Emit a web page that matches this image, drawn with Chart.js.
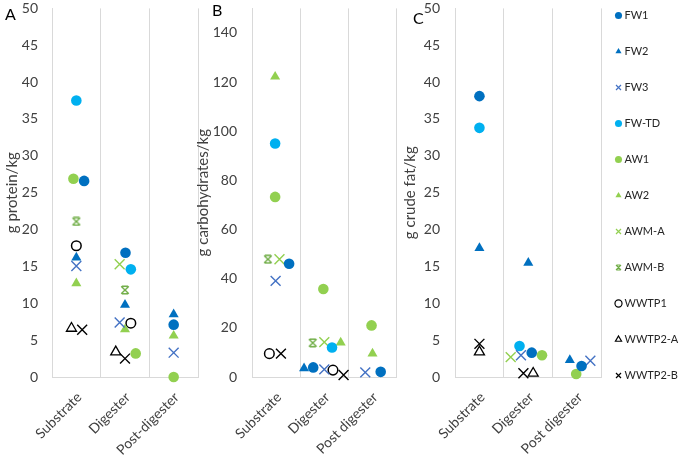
<!DOCTYPE html>
<html>
<head>
<meta charset="utf-8">
<script src="https://cdn.jsdelivr.net/npm/chart.js@4"></script>
<style>
  html, body { margin: 0; padding: 0; background: #fff; overflow: hidden; width: 685px; height: 456px; }
  canvas { position: absolute; }
  .letter { position: absolute; font-family: Lato, sans-serif; font-size: 16px; line-height: 16px; color: #000; }
</style>
</head>
<body>
<canvas id="chartA" width="215" height="456" style="left:0px;top:0px"></canvas>
<canvas id="chartB" width="215" height="456" style="left:190px;top:0px"></canvas>
<canvas id="chartC" width="215" height="456" style="left:395px;top:0px"></canvas>
<canvas id="legend" width="92" height="471" style="left:593px;top:-15px"></canvas>
<div class="letter" style="left:5px;top:6px">A</div>
<div class="letter" style="left:212px;top:2px">B</div>
<div class="letter" style="left:413px;top:10px">C</div>
<script>
// ---- data ----
const seriesNames = ['FW1','FW2','FW3','FW-TD','AW1','AW2','AWM-A','AWM-B','WWTP1','WWTP2-A','WWTP2-B'];
const categoriesA = ['Substrate','Digester','Post-digester'];
const categoriesBC = ['Substrate','Digester','Post digester'];
const proteinTicks = [0,5,10,15,20,25,30,35,40,45,50];
const carbTicks = [0,20,40,60,80,100,120,140];
const fatTicks = [0,5,10,15,20,25,30,35,40,45,50];

// g protein/kg : [Substrate, Digester, Post-digester] per series
const proteinValues = [
  [26.6, 16.85, 7.1],
  [16.2, 9.8, 8.5],
  [15.05, 7.4, 3.3],
  [37.5, 14.6, null],
  [26.9, 3.2, 0],
  [12.7, 6.45, 5.6],
  [null, 15.3, null],
  [21.1, 11.8, null],
  [17.8, 7.3, null],
  [6.6, 3.4, null],
  [6.4, 2.5, null]
];
// x values of the scatter (category index + spread)
const proteinX = [
  [1.16, 2.01, 3.0],
  [1.0, 2.0, 3.0],
  [1.0, 1.89, 3.0],
  [1.0, 2.12, 3.0],
  [0.94, 2.22, 3.0],
  [1.0, 2.0, 3.0],
  [1.0, 1.89, 3.0],
  [1.0, 2.0, 3.0],
  [1.0, 2.12, 3.0],
  [0.9, 1.81, 3.0],
  [1.12, 2.0, 3.0]
];

// g carbohydrates/kg
const carbValues = [
  [46.1, 3.9, 2.1],
  [null, 3.5, null],
  [39.1, 3.1, 1.9],
  [95.0, 12.0, null],
  [73.3, 35.8, 21.0],
  [122.2, 14.0, 9.5],
  [47.9, 14.2, null],
  [47.9, 13.9, null],
  [9.5, 2.8, null],
  [null, null, null],
  [9.5, 0.8, null]
];
const carbX = [
  [1.27, 1.77, 3.17],
  [1.0, 1.58, 3.0],
  [0.99, 2.0, 2.85],
  [0.98, 2.16, 3.0],
  [0.98, 1.98, 2.98],
  [0.98, 2.34, 3.0],
  [1.07, 2.0, 3.0],
  [0.83, 1.76, 3.0],
  [0.86, 2.18, 3.0],
  [1.0, 2.0, 3.0],
  [1.1, 2.4, 3.0]
];

// g crude fat/kg
const fatValues = [
  [38.1, 3.3, 1.5],
  [17.5, 15.5, 2.3],
  [null, 2.95, 2.2],
  [33.8, 4.2, null],
  [null, 2.95, 0.4],
  [null, null, null],
  [null, 2.7, null],
  [null, null, null],
  [null, null, null],
  [3.4, 0.5, null],
  [4.5, 0.5, null]
];
const fatX = [
  [1.0, 2.07, 3.09],
  [1.0, 2.0, 2.85],
  [1.0, 1.85, 3.27],
  [1.0, 1.82, 3.0],
  [1.0, 2.28, 2.98],
  [1.0, 2.0, 3.0],
  [1.0, 1.64, 3.0],
  [1.0, 2.0, 3.0],
  [1.0, 2.0, 3.0],
  [1.0, 2.1, 3.0],
  [1.0, 1.9, 3.0]
];

// ---- styles ----
function makeStar(color, size, lw) {
  const c = document.createElement('canvas');
  c.width = size; c.height = size;
  const g = c.getContext('2d');
  g.strokeStyle = color; g.lineWidth = lw;
  const m = lw * 0.85;
  g.beginPath();
  g.moveTo(m, m); g.lineTo(size - m, size - m);
  g.moveTo(size - m, m); g.lineTo(m, size - m);
  g.moveTo(size * 0.2, m); g.lineTo(size * 0.8, m);
  g.moveTo(size * 0.2, size - m); g.lineTo(size * 0.8, size - m);
  g.stroke();
  return c;
}
const BLUE = '#0070C0', CYAN = '#00B0F0', LBLUE = '#4472C4', LGREEN = '#92D050', DGREEN = '#70AD47', BLACK = '#000000';
const starPlot = makeStar(DGREEN, 10, 1.4);
const starLegend = makeStar(DGREEN, 7, 1.2);
const styles = [
  {pointStyle: 'circle', pointRadius: 5.3, backgroundColor: BLUE, borderColor: BLUE, borderWidth: 0},
  {pointStyle: 'triangle', pointRadius: 5.8, backgroundColor: BLUE, borderColor: BLUE, borderWidth: 0},
  {pointStyle: 'crossRot', pointRadius: 7, backgroundColor: LBLUE, borderColor: LBLUE, borderWidth: 1.4},
  {pointStyle: 'circle', pointRadius: 5.3, backgroundColor: CYAN, borderColor: CYAN, borderWidth: 0},
  {pointStyle: 'circle', pointRadius: 5.3, backgroundColor: LGREEN, borderColor: LGREEN, borderWidth: 0},
  {pointStyle: 'triangle', pointRadius: 5.8, backgroundColor: LGREEN, borderColor: LGREEN, borderWidth: 0},
  {pointStyle: 'crossRot', pointRadius: 7, backgroundColor: LGREEN, borderColor: LGREEN, borderWidth: 1.4},
  {pointStyle: starPlot, legendStyle: starLegend, pointRadius: 5, backgroundColor: DGREEN, borderColor: DGREEN, borderWidth: 1.4},
  {pointStyle: 'circle', pointRadius: 4.8, backgroundColor: '#ffffff', borderColor: BLACK, borderWidth: 1.5},
  {pointStyle: 'triangle', pointRadius: 5.8, backgroundColor: 'rgba(255,255,255,0)', borderColor: BLACK, borderWidth: 1.3},
  {pointStyle: 'crossRot', pointRadius: 7, backgroundColor: BLACK, borderColor: BLACK, borderWidth: 1.4}
];

const TXT = '#404040';
const FONT = 'Lato, "Open Sans", sans-serif';

function buildDatasets(values, xs) {
  return seriesNames.map((name, i) => ({
    label: name,
    data: values ? values[i].map((v, j) => v == null ? null : {x: xs[i][j], y: v}).filter(p => p) : [],
    pointStyle: (!values && styles[i].legendStyle) ? styles[i].legendStyle : styles[i].pointStyle,
    pointRadius: styles[i].pointRadius,
    pointHoverRadius: styles[i].pointRadius,
    pointBackgroundColor: styles[i].backgroundColor,
    pointBorderColor: styles[i].borderColor,
    pointBorderWidth: values ? styles[i].borderWidth : Math.min(styles[i].borderWidth, 1.2),
    backgroundColor: styles[i].backgroundColor,
    borderColor: styles[i].borderColor,
    borderWidth: styles[i].borderWidth,
    showLine: false,
    clip: false
  }));
}

function panel(id, values, xs, cats, yTicks, yMax, yTitle, yWidth, tickPad, titlePad, padRight) {
  return new Chart(document.getElementById(id), {
    type: 'scatter',
    data: { datasets: buildDatasets(values, xs) },
    options: {
      responsive: false,
      animation: false,
      events: [],
      layout: { padding: { left: 0, top: 5, right: padRight, bottom: 0 } },
      plugins: { legend: { display: false }, tooltip: { enabled: false } },
      scales: {
        x: {
          type: 'linear', min: 0.5, max: 3.5,
          afterBuildTicks: s => { s.ticks = [0.5, 1, 1.5, 2, 2.5, 3, 3.5].map(v => ({value: v})); },
          afterFit: s => { s.height = 79; s.paddingLeft = 0; s.paddingRight = 0; },
          ticks: {
            autoSkip: false, minRotation: 45, maxRotation: 45, padding: 12, labelOffset: 3,
            color: TXT, font: { family: FONT, size: 14 },
            callback: v => Number.isInteger(v) ? cats[v - 1] : ''
          },
          grid: {
            drawTicks: false, lineWidth: 1,
            color: c => (c.tick && !Number.isInteger(c.tick.value)) ? '#D9D9D9' : 'rgba(0,0,0,0)'
          },
          border: { display: true, color: '#D9D9D9', width: 1 }
        },
        y: {
          min: 0, max: yMax,
          afterBuildTicks: s => { s.ticks = yTicks.map(v => ({value: v})); },
          afterFit: s => { s.width = yWidth; s.paddingTop = 0; s.paddingBottom = 0; },
          ticks: { padding: tickPad, color: TXT, font: { family: FONT, size: 14 } },
          grid: { display: false, drawTicks: false },
          border: { display: true, color: '#D9D9D9', width: 1 },
          title: { display: true, text: yTitle, color: TXT, font: { family: FONT, size: 15 }, padding: { top: titlePad, bottom: 0 } }
        }
      }
    }
  });
}

function draw() {
  panel('chartA', proteinValues, proteinX, categoriesA, proteinTicks, 50, 'g protein/kg', 52, 14, 3, 17);
  panel('chartB', carbValues, carbX, categoriesBC, carbTicks, 150, 'g carbohydrates/kg', 62, 15, 4, 8);
  panel('chartC', fatValues, fatX, categoriesBC, fatTicks, 50, 'g crude fat/kg', 60, 15, 6, 7);
  new Chart(document.getElementById('legend'), {
    type: 'scatter',
    data: { datasets: buildDatasets(null, null) },
    options: {
      responsive: false,
      animation: false,
      events: [],
      layout: { padding: 0 },
      scales: { x: { display: false }, y: { display: false } },
      plugins: {
        tooltip: { enabled: false },
        legend: {
          display: true, position: 'top', align: 'start', maxHeight: 471,
          labels: { usePointStyle: true, boxWidth: 1, boxHeight: 5, padding: 25, color: '#262626', font: { family: FONT, size: 11 } }
        }
      }
    }
  });
}
if (document.fonts && document.fonts.load) {
  document.fonts.load('14px Lato').then(draw, draw);
} else { draw(); }
</script>
</body>
</html>
